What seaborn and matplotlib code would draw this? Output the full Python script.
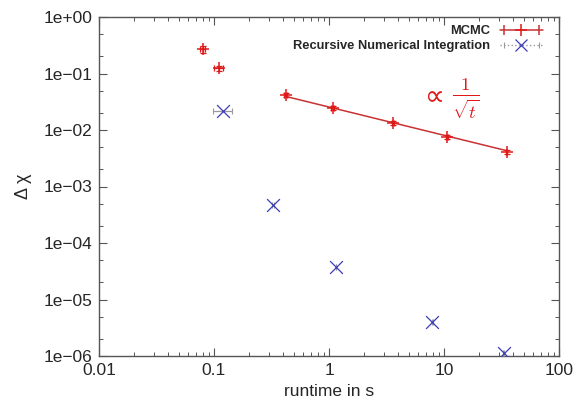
import numpy as np
import pandas as pd
import matplotlib
matplotlib.use("Agg")
import matplotlib.pyplot as plt
import matplotlib.ticker as mticker
from matplotlib.lines import Line2D
from matplotlib.legend_handler import HandlerLine2D, HandlerTuple
import seaborn as sns

# ---- data ----
mcmc_runtime = [0.080, 0.110, 0.42, 1.08, 3.6, 10.6, 35.0]
mcmc_delta = [0.27, 0.125, 0.0417, 0.0245, 0.0133, 0.0075, 0.0041]
mcmc_xerr = [0.004, 0.009, 0.012, 0.03, 0.08, 0.2, 0.6]
mcmc_yerr = [0.035, 0.012, 0.004, 0.0018, 0.0009, 0.0005, 0.0003]

rni_runtime = [0.12, 0.326, 1.15, 7.9, 33.0]
rni_delta = [0.0217, 4.7e-4, 3.76e-5, 4.0e-6, 1.13e-6]
rni_xerr = [0.022, 0.004, 0.01, 0.05, 0.2]

fit_coef = 0.0255          # Delta chi = c / sqrt(t)
fit_range = [0.42, 35.0]

xticks = [0.01, 0.1, 1, 10, 100]
xticklabels = ["0.01", "0.1", "1", "10", "100"]
yticks = [1e0, 1e-1, 1e-2, 1e-3, 1e-4, 1e-5, 1e-6]
yticklabels = ["1e+00", "1e\u221201", "1e\u221202", "1e\u221203", "1e\u221204", "1e\u221205", "1e\u221206"]

sns.set_style("ticks")
plt.rcParams["font.family"] = ["Liberation Sans", "DejaVu Sans"]
plt.rcParams["mathtext.fontset"] = "cm"

RED = "#e01818"
LINE_RED = "#c83232"
BLUE = "#3c3cb8"

fig = plt.figure(figsize=(5.85, 4.05), dpi=100)
ax = fig.add_axes([99 / 585, 1 - 356 / 405, (559 - 99) / 585, (356 - 17) / 405])

# fit line
t_fit = np.logspace(np.log10(fit_range[0]), np.log10(fit_range[1]), 50)
fit_df = pd.DataFrame({"t": t_fit, "d": fit_coef / np.sqrt(t_fit)})
sns.lineplot(data=fit_df, x="t", y="d", ax=ax, color=LINE_RED, lw=1.1, legend=False)

# MCMC error bars + markers
ax.errorbar(mcmc_runtime, mcmc_delta, xerr=mcmc_xerr, yerr=mcmc_yerr, fmt="none",
            ecolor=RED, elinewidth=0.9, capsize=2.5, capthick=0.9, zorder=3)
mcmc_df = pd.DataFrame({"t": mcmc_runtime, "d": mcmc_delta})
sns.scatterplot(data=mcmc_df, x="t", y="d", ax=ax, marker="+", s=80, color=RED,
                linewidth=1.1, zorder=4, legend=False)

# RNI
ax.errorbar(rni_runtime, rni_delta, xerr=rni_xerr, fmt="none", ecolor="#9a9a9a",
            elinewidth=0.9, ls=":", capsize=2, capthick=0.8, zorder=3)
rni_df = pd.DataFrame({"t": rni_runtime, "d": rni_delta})
sns.scatterplot(data=rni_df, x="t", y="d", ax=ax, marker="x", s=85, color=BLUE,
                linewidth=0.9, zorder=4, legend=False)

ax.set_xscale("log")
ax.set_yscale("log")
ax.set_xlim(0.01, 100)
ax.set_ylim(1e-6, 1e0)
ax.set_xticks(xticks)
ax.set_xticklabels(xticklabels)
ax.set_yticks(yticks)
ax.set_yticklabels(yticklabels)
ax.xaxis.set_minor_locator(mticker.LogLocator(base=10, subs=np.arange(2, 10)))
ax.yaxis.set_minor_locator(mticker.LogLocator(base=10, subs=(2.0, 5.0)))
ax.xaxis.set_minor_formatter(mticker.NullFormatter())
ax.yaxis.set_minor_formatter(mticker.NullFormatter())

ax.tick_params(which="both", direction="in", top=True, right=True, color="#555555")
ax.tick_params(which="major", length=6, width=0.8, labelsize=12.5, pad=5)
ax.tick_params(which="minor", length=3, width=0.7)
for sp in ax.spines.values():
    sp.set_visible(True)
    sp.set_color("#555555")
    sp.set_linewidth(1.0)

ax.set_xlabel("runtime in s", fontsize=12.5, labelpad=4)
ax.set_ylabel("\u0394 \u03c7", fontsize=13, labelpad=8)

# annotation, positioned in figure pixels
ax.text(425 / 585, 1 - 97 / 405, "\u221d", transform=fig.transFigure, color=RED,
        fontsize=20, ha="left", va="center", family="DejaVu Sans")
ax.text(466 / 585, 1 - 99 / 405, r"$\frac{1}{\sqrt{t}}$", transform=fig.transFigure,
        color=RED, fontsize=19, ha="center", va="center")

# legend
mcmc_line = Line2D([], [], color=LINE_RED, lw=1.1)
mcmc_caps = Line2D([], [], color=LINE_RED, ls="none", marker="|", ms=7, mew=1.1)
mcmc_mark = Line2D([], [], color=RED, ls="none", marker="+", ms=9, mew=1.1)
rni_line = Line2D([], [], color="#9a9a9a", ls=":", lw=1.0)
rni_caps = Line2D([], [], color="#9a9a9a", ls="none", marker="|", ms=5, mew=0.8)
rni_mark = Line2D([], [], color=BLUE, ls="none", marker="x", ms=9, mew=0.9)
leg = ax.legend([(mcmc_line, mcmc_caps, mcmc_mark), (rni_line, rni_caps, rni_mark)],
                ["MCMC", "Recursive Numerical Integration"],
                loc="upper right", bbox_to_anchor=(0.983, 1.0), frameon=False,
                markerfirst=False,
                prop={"weight": "bold", "size": 9.3}, handlelength=3.3,
                borderaxespad=0.25, labelspacing=0.2, handletextpad=0.8,
                handler_map={tuple: HandlerTuple(ndivide=1, pad=0),
                             mcmc_caps: HandlerLine2D(numpoints=2),
                             rni_caps: HandlerLine2D(numpoints=2),
                             mcmc_mark: HandlerLine2D(numpoints=1),
                             rni_mark: HandlerLine2D(numpoints=1)})

fig.savefig("out.png", dpi=100)
